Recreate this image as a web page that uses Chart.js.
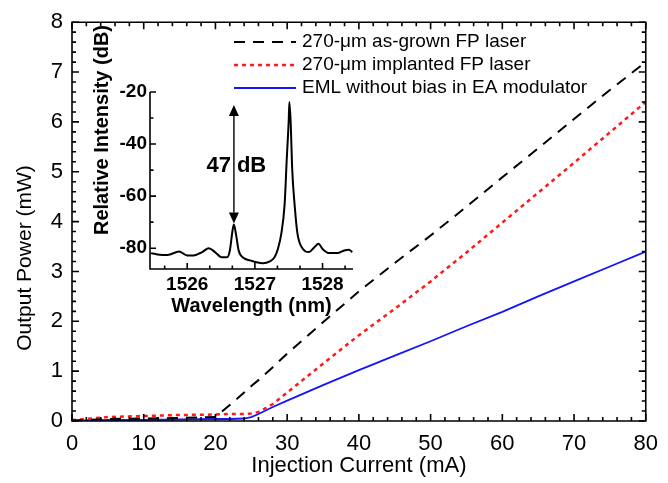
<!DOCTYPE html>
<html>
<head>
<meta charset="utf-8">
<script src="https://cdn.jsdelivr.net/npm/chart.js@4.4.0/dist/chart.umd.min.js"></script>
<style>
  html, body { margin: 0; padding: 0; background: #fff; }
  #wrap { position: relative; width: 668px; height: 483px; }
  canvas { position: absolute; left: 0; top: 0; }
</style>
</head>
<body>
<div id="wrap">
  <canvas id="main" width="668" height="483"></canvas>
  <canvas id="inset" width="668" height="483"></canvas>
</div>
<script>
// L-I curves (mA -> mW)
const current   = [0, 2, 5, 10, 15, 20, 22, 24, 25, 26, 28, 30, 35, 40, 45, 50, 55, 60, 65, 70, 75, 80];
const asGrown   = [0.01, 0.02, 0.04, 0.05, 0.06, 0.08, 0.32, 0.57, 0.70, 0.82, 1.08, 1.35, 1.98, 2.60, 3.17, 3.72, 4.30, 4.89, 5.47, 6.06, 6.64, 7.20];
const implanted = [0.02, 0.04, 0.08, 0.10, 0.12, 0.13, 0.14, 0.14, 0.15, 0.18, 0.34, 0.57, 1.15, 1.72, 2.25, 2.80, 3.38, 3.98, 4.58, 5.18, 5.79, 6.40];
const eml       = [0.00, 0.01, 0.02, 0.02, 0.03, 0.04, 0.04, 0.05, 0.08, 0.14, 0.28, 0.41, 0.72, 1.02, 1.31, 1.60, 1.90, 2.19, 2.50, 2.80, 3.10, 3.40];
const seriesLabels = ['270-\u03bcm as-grown FP laser', '270-\u03bcm implanted FP laser', 'EML without bias in EA modulator'];
const xTicks = [0, 10, 20, 30, 40, 50, 60, 70, 80];
const yTicks = [0, 1, 2, 3, 4, 5, 6, 7, 8];

// inset spectrum (nm -> dB)
const wavelength = [1525.46, 1525.56, 1525.71, 1525.88, 1526.00, 1526.10, 1526.22, 1526.32, 1526.41, 1526.51, 1526.59,
  1526.63, 1526.67, 1526.69, 1526.72, 1526.76, 1526.83, 1526.93, 1527.02, 1527.12, 1527.22, 1527.29, 1527.34,
  1527.39, 1527.44, 1527.47, 1527.50, 1527.51, 1527.53, 1527.55, 1527.59, 1527.63, 1527.71, 1527.80, 1527.88,
  1527.94, 1528.00, 1528.10, 1528.22, 1528.32, 1528.39, 1528.44];
const intensity = [-81.9, -82.4, -82.6, -81.3, -82.8, -82.8, -81.5, -80.0, -81.5, -83.5, -83.5,
  -80.9, -73.2, -70.9, -74.5, -80.9, -83.7, -84.7, -85.4, -85.8, -85.1, -83.5, -80.3,
  -74.5, -63.0, -46.3, -30.9, -23.8, -32.2, -48.8, -64.2, -74.5, -80.3, -81.5, -79.6,
  -78.3, -80.3, -81.9, -81.9, -80.9, -80.6, -81.5];
const specXTicks = [1526, 1527, 1528];
const specYTicks = [-80, -60, -40, -20];
const smsr = { at: 1526.69, top: -25, bottom: -70.5, labelAt: -48.5, text: ['47', 'dB'] };

const FONT = "'Liberation Sans', Arial, sans-serif";

function marks(min, max, step, sub) {
  const out = [];
  const d = step / sub;
  for (let k = Math.ceil(min / d - 1e-6); k * d <= max + 1e-6; k++) {
    out.push([k * d, k % sub === 0]);
  }
  return out;
}

// inward tick marks + frame
const frameTicks = {
  id: 'frameTicks',
  afterDatasetsDraw(chart, args, o) {
    const { ctx, chartArea: a } = chart;
    const sx = chart.scales.x, sy = chart.scales.y;
    ctx.save();
    ctx.strokeStyle = '#000';
    ctx.lineWidth = o.width;
    ctx.beginPath();
    marks(sx.min, sx.max, o.xStep, o.xSub).forEach(([v, major]) => {
      const p = sx.getPixelForValue(v);
      const len = major ? o.major : o.minor;
      ctx.moveTo(p, a.bottom); ctx.lineTo(p, a.bottom - len);
      if (o.box) { ctx.moveTo(p, a.top); ctx.lineTo(p, a.top + len); }
    });
    marks(sy.min, sy.max, o.yStep, o.ySub).forEach(([v, major]) => {
      const p = sy.getPixelForValue(v);
      const len = major ? o.major : o.minor;
      ctx.moveTo(a.left, p); ctx.lineTo(a.left + len, p);
      if (o.box) { ctx.moveTo(a.right, p); ctx.lineTo(a.right - len, p); }
    });
    ctx.stroke();
    ctx.beginPath();
    if (o.box) {
      ctx.rect(a.left, a.top, a.right - a.left, a.bottom - a.top);
    } else {
      ctx.moveTo(a.left, a.top); ctx.lineTo(a.left, a.bottom); ctx.lineTo(a.right, a.bottom);
    }
    ctx.stroke();
    ctx.restore();
  }
};

const sampleLegend = {
  id: 'sampleLegend',
  afterDraw(chart, args, o) {
    if (!o.show) return;
    const ctx = chart.ctx;
    chart.data.datasets.forEach((ds, i) => {
      const y = o.y + i * o.row;
      ctx.save();
      ctx.strokeStyle = ds.borderColor;
      ctx.lineWidth = ds.borderWidth;
      ctx.setLineDash(ds.borderDash || []);
      ctx.beginPath();
      ctx.moveTo(o.x, y);
      ctx.lineTo(o.x + o.len, y);
      ctx.stroke();
      ctx.setLineDash([]);
      ctx.fillStyle = '#000';
      ctx.font = o.font;
      ctx.textBaseline = 'middle';
      ctx.fillText(ds.label, o.x + o.len + o.gap, y);
      ctx.restore();
    });
  }
};

// rotated y title, placed where the original has it (not centred on the axis)
const sideTitle = {
  id: 'sideTitle',
  afterDraw(chart, args, o) {
    if (!o.text) return;
    const ctx = chart.ctx;
    ctx.save();
    ctx.translate(o.x, o.y);
    ctx.rotate(-Math.PI / 2);
    ctx.font = o.font;
    ctx.fillStyle = '#000';
    ctx.textAlign = 'center';
    ctx.textBaseline = 'middle';
    ctx.fillText(o.text, 0, 0);
    ctx.restore();
  }
};

const modeArrow = {
  id: 'modeArrow',
  afterDraw(chart, args, o) {
    if (!o.show) return;
    const ctx = chart.ctx;
    const x = chart.scales.x.getPixelForValue(smsr.at);
    const y1 = chart.scales.y.getPixelForValue(smsr.top);
    const y2 = chart.scales.y.getPixelForValue(smsr.bottom);
    const yt = chart.scales.y.getPixelForValue(smsr.labelAt);
    ctx.save();
    ctx.strokeStyle = '#000';
    ctx.fillStyle = '#000';
    ctx.lineWidth = 1.4;
    ctx.beginPath();
    ctx.moveTo(x, y1 + o.head); ctx.lineTo(x, y2 - o.head);
    ctx.stroke();
    ctx.beginPath();
    ctx.moveTo(x, y1); ctx.lineTo(x - o.half, y1 + o.head); ctx.lineTo(x + o.half, y1 + o.head); ctx.closePath();
    ctx.moveTo(x, y2); ctx.lineTo(x - o.half, y2 - o.head); ctx.lineTo(x + o.half, y2 - o.head); ctx.closePath();
    ctx.fill();
    ctx.font = o.font;
    ctx.textBaseline = 'middle';
    ctx.textAlign = 'right';
    ctx.fillText(smsr.text[0], x - o.gap, yt);
    ctx.textAlign = 'left';
    ctx.fillText(smsr.text[1], x + o.gap, yt);
    ctx.restore();
  }
};

Chart.register(frameTicks, sampleLegend, sideTitle, modeArrow);

function pts(xs, ys) { return xs.map((x, i) => ({ x: x, y: ys[i] })); }

new Chart(document.getElementById('main'), {
  type: 'line',
  data: {
    datasets: [
      { label: seriesLabels[0], data: pts(current, asGrown), borderColor: '#000000', borderWidth: 2, borderDash: [11, 8] },
      { label: seriesLabels[1], data: pts(current, implanted), borderColor: '#ff1a1a', borderWidth: 2.5, borderDash: [4, 4] },
      { label: seriesLabels[2], data: pts(current, eml), borderColor: '#1414ff', borderWidth: 1.8 }
    ]
  },
  options: {
    responsive: false,
    animation: false,
    devicePixelRatio: 1,
    elements: { point: { radius: 0 }, line: { tension: 0 } },
    layout: { padding: { left: 0, right: 22, top: 21, bottom: 0 } },
    plugins: {
      legend: { display: false },
      tooltip: { enabled: false },
      frameTicks: { box: true, width: 1.6, major: 7, minor: 4, xStep: 10, xSub: 5, yStep: 1, ySub: 5 },
      sampleLegend: { show: true, x: 234, len: 62, gap: 6, y: 42, row: 23, font: '19px ' + FONT },
      sideTitle: { text: 'Output Power (mW)', x: 25, y: 258, font: '21px ' + FONT },
      modeArrow: { show: false }
    },
    scales: {
      x: {
        type: 'linear', min: 0, max: 80,
        afterBuildTicks: s => { s.ticks = xTicks.map(v => ({ value: v })); },
        afterFit: s => { s.height = 62; },
        grid: { display: false, drawTicks: false },
        border: { display: false },
        ticks: { color: '#000', font: { family: FONT, size: 22 }, padding: 10, maxRotation: 0, callback: v => String(v) },
        title: { display: true, text: 'Injection Current (mA)', color: '#000', font: { family: FONT, size: 22 }, padding: { top: 0, bottom: 4 } }
      },
      y: {
        min: 0, max: 8,
        afterBuildTicks: s => { s.ticks = yTicks.map(v => ({ value: v })); },
        afterFit: s => { s.width = 72; },
        grid: { display: false, drawTicks: false },
        border: { display: false },
        ticks: { color: '#000', font: { family: FONT, size: 22 }, padding: 9, callback: v => String(v) },
        title: { display: false }
      }
    }
  }
});

new Chart(document.getElementById('inset'), {
  type: 'line',
  data: {
    datasets: [
      { label: 'spectrum', data: pts(wavelength, intensity), borderColor: '#000', borderWidth: 2, cubicInterpolationMode: 'monotone' }
    ]
  },
  options: {
    responsive: false,
    animation: false,
    devicePixelRatio: 1,
    elements: { point: { radius: 0 } },
    layout: { padding: { left: 88, right: 315, top: 92, bottom: 164 } },
    plugins: {
      legend: { display: false },
      tooltip: { enabled: false },
      frameTicks: { box: false, width: 1.6, major: 6, minor: 3.5, xStep: 1, xSub: 3, yStep: 20, ySub: 2 },
      sampleLegend: { show: false },
      sideTitle: { text: 'Relative Intensity (dB)', x: 102, y: 130, font: 'bold 20px ' + FONT },
      modeArrow: { show: true, head: 11, half: 5, gap: 3, font: 'bold 22px ' + FONT }
    },
    scales: {
      x: {
        type: 'linear', min: 1525.45, max: 1528.45,
        afterBuildTicks: s => { s.ticks = specXTicks.map(v => ({ value: v })); },
        afterFit: s => { s.height = 50; },
        grid: { display: false, drawTicks: false },
        border: { display: false },
        ticks: { color: '#000', font: { family: FONT, size: 19, weight: 'bold' }, padding: 4, maxRotation: 0, callback: v => String(v) },
        title: { display: true, text: 'Wavelength (nm)', color: '#000', font: { family: FONT, size: 20, weight: 'bold' }, padding: { top: 0, bottom: 1 } }
      },
      y: {
        min: -88, max: -20,
        afterBuildTicks: s => { s.ticks = specYTicks.map(v => ({ value: v })); },
        afterFit: s => { s.width = 62; },
        grid: { display: false, drawTicks: false },
        border: { display: false },
        ticks: { color: '#000', font: { family: FONT, size: 19, weight: 'bold' }, padding: 3, callback: v => String(v) },
        title: { display: false }
      }
    }
  }
});
</script>
</body>
</html>
